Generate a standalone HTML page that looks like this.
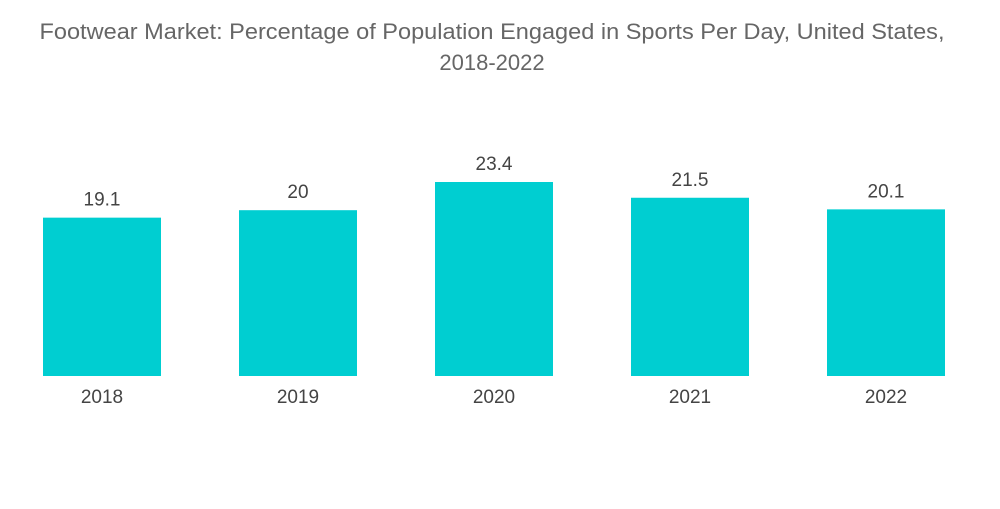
<!DOCTYPE html>
<html><head><meta charset="utf-8"><style>
body{margin:0;background:#fff;width:1000px;height:504px;overflow:hidden;font-family:"Liberation Sans",sans-serif;}
</style></head><body>
<svg id="chart" width="1000" height="504">
<text x="492" y="39" text-anchor="middle" font-size="22" fill="#666" textLength="905" lengthAdjust="spacingAndGlyphs">Footwear Market: Percentage of Population Engaged in Sports Per Day, United States,</text>
<text x="492" y="70" text-anchor="middle" font-size="22" fill="#666">2018-2022</text>
<g id="bars"></g>
</svg>
<script>
const categories=["2018","2019","2020","2021","2022"];
const values=[19.1,20,23.4,21.5,20.1];
const labels=["19.1","20","23.4","21.5","20.1"];
const g=document.getElementById('bars');
const ns="http://www.w3.org/2000/svg";
const baseY=376, scale=194/23.4, x0=43, step=196, bw=118;
function yOf(v){return baseY-v*scale;}
function xOf(i){return x0+i*step;}
categories.forEach((c,i)=>{
 const r=document.createElementNS(ns,'rect');
 r.setAttribute('x',xOf(i));r.setAttribute('y',yOf(values[i]));
 r.setAttribute('width',bw);r.setAttribute('height',baseY-yOf(values[i]));
 r.setAttribute('fill','#00CED1');
 
 
 g.appendChild(r);
 const t=document.createElementNS(ns,'text');
 t.setAttribute('x',xOf(i)+bw/2);t.setAttribute('y',yOf(values[i])-12);
 t.setAttribute('text-anchor','middle');t.setAttribute('font-size','19');t.setAttribute('fill','#444');
 t.textContent=labels[i];
 
 
 g.appendChild(t);
 const a=document.createElementNS(ns,'text');
 a.setAttribute('x',xOf(i)+bw/2);a.setAttribute('y',403);
 a.setAttribute('text-anchor','middle');a.setAttribute('font-size','19');a.setAttribute('fill','#444');
 a.textContent=c;
 
 
 g.appendChild(a);
});
</script>
</body></html>
